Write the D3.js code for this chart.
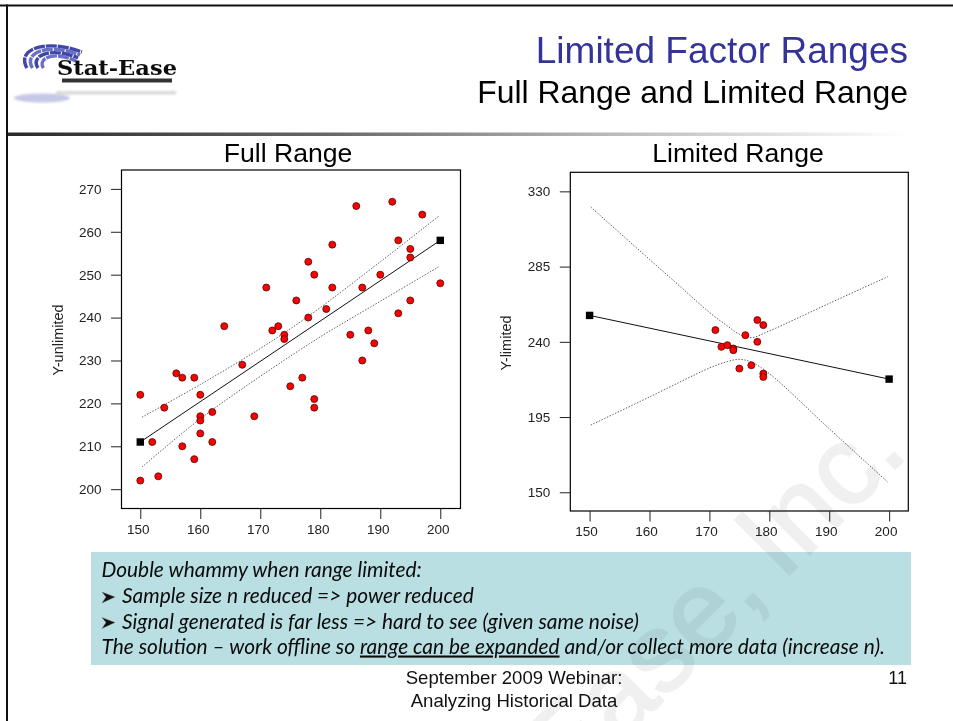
<!DOCTYPE html>
<html><head><meta charset="utf-8">
<script src="https://cdn.jsdelivr.net/npm/d3@7"></script>
<style>
html,body{margin:0;padding:0;background:#fff;}
svg{display:block;}
text{font-family:"Liberation Sans",Arial,sans-serif;}
</style></head><body>
<svg id="c" width="953" height="721"></svg>
<script>
// ---- Data ----
const fullX = [150,150,152,153,154,156,157,157,159,159,160,160,160,160,162,162,164,167,169,171,172,173,174,174,175,176,177,178,178,179,179,179,181,182,182,185,186,187,187,188,189,190,192,193,193,195,195,195,197,200];
const fullY = [202,222,211,203,219,227,226,210,226,207,222,217,216,213,218,211,238,229,217,247,237,238,236,235,224,244,226,253,240,250,221,219,242,257,247,236,266,247,230,237,234,250,267,258,241,256,254,244,264,248];
const fullFitX = [150,200];
const fullFitY = [211,258];
const fullBandX = [150.3,160,170,178,190,199.7];
const fullUpper = [216.8,224.4,232.8,240.3,253,263.6];
const fullLowerX = [150.3,160,170,180,190,199.7];
const fullLower = [205.2,216.4,226.3,235.5,243.8,251.8];

const limX = [171,172,173,174,174,175,176,177,178,178,179,179,179];
const limY = [247,237,238,236,235,224,244,226,253,240,250,221,219];
const limFitX = [150,200];
const limFitY = [255.8,217.7];
const limBandX = [150.2,160,165,170,173,175,177,180,190,199.8];
const limUpper = [320.6,289.3,273.5,257.6,249.5,244.5,242.5,246.5,263,279];
const limLowerX = [150.2,160,170,173,175,177,180,190,199.8];
const limLower = [190.2,207,224.3,228.2,229.5,227.9,221,188,156];

const xTicks = [150,160,170,180,190,200];
const fullYTicks = [200,210,220,230,240,250,260,270];
const limYTicks = [150,195,240,285,330];

const titleMain = "Limited Factor Ranges";
const titleSub = "Full Range and Limited Range";
const noteLines = ["Double whammy when range limited:","Sample size n reduced => power reduced","Signal generated is far less  => hard to see (given same noise)"];

// ---- Page furniture ----
const svg = d3.select("#c");
const defs = svg.append("defs");
const g = defs.append("linearGradient").attr("id","rule");
g.append("stop").attr("offset","0").attr("stop-color","#2a2a2a");
g.append("stop").attr("offset","0.35").attr("stop-color","#666");
g.append("stop").attr("offset","0.65").attr("stop-color","#b5b5b5");
g.append("stop").attr("offset","1").attr("stop-color","#fff");
defs.append("filter").attr("id","soft").append("feGaussianBlur").attr("stdDeviation",0.45);
defs.append("filter").attr("id","soft2").append("feGaussianBlur").attr("stdDeviation",1.2);

svg.append("rect").attr("x",0).attr("y",4.5).attr("width",953).attr("height",2).attr("fill","#111");
svg.append("rect").attr("x",6).attr("y",4.5).attr("width",2).attr("height",716.5).attr("fill","#111");
svg.append("rect").attr("x",8).attr("y",132.5).attr("width",900).attr("height",3.5).attr("fill","url(#rule)");

// Logo
const logo = svg.append("g").attr("filter","url(#soft)");
[0,1,2,3].forEach(i=>{
  logo.append("path")
    .attr("d",`M${27+i*5.5},${68} C${16+i*7},${50+i*3} ${44+i*3},${38+i*4} ${82-i*2},${52+i*3}`)
    .attr("fill","none").attr("stroke",i%2?"#6a70c4":"#4047a6").attr("stroke-width",3.4).attr("stroke-dasharray","11 1");
});
logo.append("text").attr("x",57).attr("y",75).attr("font-size",20.5).attr("font-weight",700)
  .attr("textLength",120).attr("lengthAdjust","spacingAndGlyphs")
  .style("font-family","'DejaVu Serif',serif").attr("fill","#111").text("Stat-Ease");
logo.append("rect").attr("x",62).attr("y",78.5).attr("width",110).attr("height",4).attr("fill","#333");
const refl = svg.append("g").attr("filter","url(#soft2)");
refl.append("ellipse").attr("cx",42).attr("cy",98).attr("rx",28).attr("ry",4.5).attr("fill","#c6c9e6");
refl.append("rect").attr("x",56).attr("y",91).attr("width",120).attr("height",3.5).attr("fill","#d9d9d9");

// Titles
svg.append("text").attr("x",908).attr("y",63).attr("text-anchor","end").attr("font-size",37).attr("fill","#333399").text(titleMain);
svg.append("text").attr("x",908).attr("y",103).attr("text-anchor","end").attr("font-size",31.9).attr("fill","#000").text(titleSub);
svg.append("text").attr("x",288).attr("y",162).attr("text-anchor","middle").attr("font-size",26.6).text("Full Range");
svg.append("text").attr("x",738).attr("y",162).attr("text-anchor","middle").attr("font-size",26.6).text("Limited Range");

// ---- Panels ----
function panel(o){
  const x = d3.scaleLinear().domain(o.xDomain).range([o.left,o.right]);
  const y = d3.scaleLinear().domain(o.yDomain).range([o.bottom,o.top]);
  const root = svg.append("g");
  root.append("rect").attr("x",o.left).attr("y",o.top).attr("width",o.right-o.left).attr("height",o.bottom-o.top)
    .attr("fill","#fff").attr("stroke","#000").attr("stroke-width",1.2);
  const ax = root.append("g").attr("transform",`translate(0,${o.bottom})`)
    .call(d3.axisBottom(x).tickValues(xTicks).tickSize(10.5).tickPadding(5).tickFormat(d3.format("d")));
  const ay = root.append("g").attr("transform",`translate(${o.left},0)`)
    .call(d3.axisLeft(y).tickValues(o.yTicks).tickSize(10.5).tickPadding(9.5).tickFormat(d3.format("d")));
  [ax,ay].forEach(a=>{
    a.select(".domain").remove();
    a.selectAll("text").attr("font-size",13.5).attr("fill","#222").style("font-family","'Liberation Sans',Arial,sans-serif");
    a.selectAll("line").attr("stroke","#222").attr("stroke-width",1);
  });
  ax.selectAll("text").attr("dx",o.labelShift).attr("dy",o.xLabelDy);
  root.append("text").attr("transform",`translate(${o.yTitleX},${o.yTitleY}) rotate(-90)`)
    .attr("text-anchor","middle").attr("font-size",14.5).attr("fill","#222").text(o.yTitle);

  const curve = d3.line().x(d=>x(d[0])).y(d=>y(d[1])).curve(d3.curveCatmullRom.alpha(0.5));
  [d3.zip(o.bandX,o.upper), d3.zip(o.lowerX,o.lower)].forEach(pts=>{
    root.append("path").attr("d",curve(pts)).attr("fill","none").attr("stroke","#444")
      .attr("stroke-width",0.9).attr("stroke-dasharray","1.4 1.6");
  });
  root.append("path").attr("d",d3.line().x(d=>x(d[0])).y(d=>y(d[1]))(d3.zip(o.fitX,o.fitY)))
    .attr("fill","none").attr("stroke","#111").attr("stroke-width",1);
  root.append("g").selectAll("rect").data(d3.zip(o.fitX,o.fitY)).join("rect")
    .attr("x",d=>x(d[0])-3.7).attr("y",d=>y(d[1])-3.7).attr("width",7.4).attr("height",7.4).attr("fill","#000");
  root.append("g").selectAll("circle").data(d3.zip(o.px,o.py)).join("circle")
    .attr("cx",d=>x(d[0])).attr("cy",d=>y(d[1])).attr("r",3.5)
    .attr("fill","#ff0000").attr("stroke","#4a0a0a").attr("stroke-width",0.8);
}
panel({left:121.5,right:460.5,top:170,bottom:508.5,
  xDomain:[146.87,203.37],yDomain:[195.5,274.4],
  yTicks:fullYTicks,yTitle:"Y-unlimited",yTitleX:63,yTitleY:340,labelShift:-2.5,xLabelDy:"0.71em",
  px:fullX,py:fullY,fitX:fullFitX,fitY:fullFitY,bandX:fullBandX,upper:fullUpper,lowerX:fullLowerX,lower:fullLower});
panel({left:570.3,right:908.3,top:172.3,bottom:511,
  xDomain:[146.78,203.2],yDomain:[138.8,341.4],
  yTicks:limYTicks,yTitle:"Y-limited",yTitleX:511,yTitleY:343,labelShift:-3.5,xLabelDy:"0.71em",
  px:limX,py:limY,fitX:limFitX,fitY:limFitY,bandX:limBandX,upper:limUpper,lowerX:limLowerX,lower:limLower});

// ---- Note box ----
svg.append("rect").attr("x",91).attr("y",552).attr("width",820).attr("height",113).attr("fill","#b9dfe3");
const nf = "Lato, 'Open Sans', sans-serif";
const nfs = 20.9;
function note(x,y,t){return svg.append("text").attr("x",x).attr("y",y).attr("font-size",nfs).attr("font-style","italic").style("font-family",nf).attr("fill","#0a0a0a").text(t);}
note(101.5,576.5,noteLines[0]);
[[603,noteLines[1]],[628.5,noteLines[2]]].forEach(([yy,t])=>{
  svg.append("path").attr("d",`M102,${yy-11} L115,${yy-6} L102,${yy} L106,${yy-6} Z`).attr("fill","#111").attr("stroke","#777").attr("stroke-width",0.4);
  note(122,yy,t);
});
const last = svg.append("text").attr("x",101.5).attr("y",653.5).attr("font-size",nfs).attr("font-style","italic").style("font-family",nf).attr("fill","#0a0a0a");
last.append("tspan").text("The solution \u2013 work offline so ");
last.append("tspan").attr("text-decoration","underline").text("range can be expanded");
last.append("tspan").text(" and/or collect more data (increase n).");

// Footer
svg.append("text").attr("x",514).attr("y",684).attr("text-anchor","middle").attr("font-size",18.6).attr("fill","#111").text("September 2009 Webinar:");
svg.append("text").attr("x",514).attr("y",707).attr("text-anchor","middle").attr("font-size",18.6).attr("fill","#111").text("Analyzing Historical Data");
svg.append("text").attr("x",907).attr("y",684).attr("text-anchor","end").attr("font-size",18).attr("fill","#111").text("11");

// Watermark
svg.append("text").attr("transform","translate(910,454) rotate(-45)").attr("text-anchor","end")
  .attr("font-size",112).attr("word-spacing",-12).attr("fill","#f0f0f0").attr("stroke","#f0f0f0").attr("stroke-width",2).style("mix-blend-mode","multiply")
  .text("Stat-Ease, Inc.");
</script>
</body></html>
